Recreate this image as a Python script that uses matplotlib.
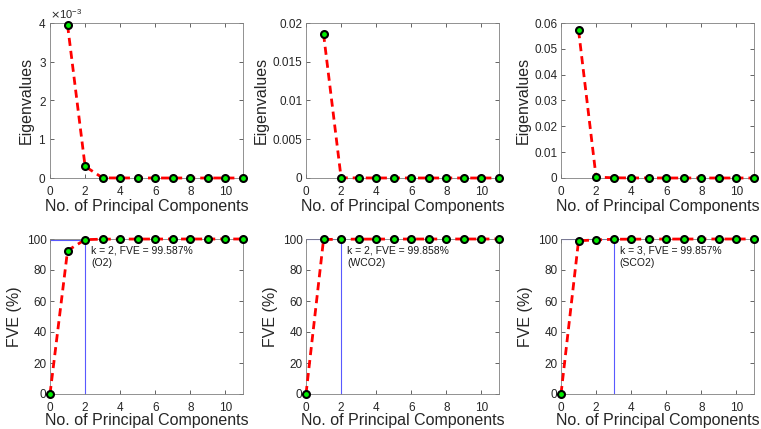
import numpy as np
import matplotlib
matplotlib.use("Agg")
import matplotlib.pyplot as plt
from matplotlib.ticker import FuncFormatter, ScalarFormatter

plt.rcParams['font.family'] = ['Liberation Sans', 'DejaVu Sans']

# --- data ---
pc_eig = [1, 2, 3, 4, 5, 6, 7, 8, 9, 10, 11]
eig_o2 = [3.95e-3, 0.30e-3, 2e-6, 1e-6, 1e-6, 0, 0, 0, 0, 0, 0]
eig_wco2 = [0.0186, 2.5e-5, 8e-6, 4e-6, 2e-6, 1e-6, 0, 0, 0, 0, 0]
eig_sco2 = [0.0572, 0.00035, 8e-5, 2e-5, 1e-5, 5e-6, 2e-6, 1e-6, 0, 0, 0]

pc_fve = [0, 1, 2, 3, 4, 5, 6, 7, 8, 9, 10, 11]
fve_o2 = [0, 92.5, 99.587, 99.9, 99.95, 99.97, 99.98, 99.99, 100, 100, 100, 100]
fve_wco2 = [0, 99.7, 99.858, 99.92, 99.95, 99.97, 99.98, 99.99, 100, 100, 100, 100]
fve_sco2 = [0, 98.9, 99.4, 99.857, 99.9, 99.94, 99.96, 99.98, 99.99, 100, 100, 100]

k_sel = [2, 2, 3]
fve_sel = [99.587, 99.858, 99.857]
names = ['O2', 'WCO2', 'SCO2']

eigs = [eig_o2, eig_wco2, eig_sco2]
fves = [fve_o2, fve_wco2, fve_sco2]
eig_ylims = [4e-3, 0.02, 0.06]
eig_ticks = [np.arange(0, 4.1e-3, 1e-3), np.arange(0, 0.0201, 0.005), np.arange(0, 0.061, 0.01)]
eig_lab_off = [16, 37, 30]

W, H = 761, 429
fig = plt.figure(figsize=(W / 100, H / 100), dpi=100)

lefts = [50, 306, 561]
aw, ah = 193, 155
tops = [23, 239]

red = dict(color='red', lw=2, linestyle=(0, (2.9, 1.8)), marker='o', ms=5,
           mfc='#00ee00', mec='black', mew=1.5)
blue = (0.35, 0.35, 1.0)


def style(ax):
    ax.tick_params(direction='in', length=3, width=0.5, labelsize=8.5, colors='0.15',
                   top=True, right=True)
    ax.tick_params(axis='x', pad=6)
    ax.tick_params(axis='y', pad=2.5)
    for s in ax.spines.values():
        s.set_linewidth(0.6)
        s.set_color('0.5')
    ax.set_xlim(0, 11)
    ax.set_xticks([0, 2, 4, 6, 8, 10])


for i in range(3):
    # eigenvalue panel
    ax = fig.add_axes([lefts[i] / W, 1 - (tops[0] + ah) / H, aw / W, ah / H])
    style(ax)
    ax.plot(pc_eig, eigs[i], **red, clip_on=False, zorder=3)
    ax.set_ylim(0, eig_ylims[i])
    ax.set_yticks(eig_ticks[i])
    if i == 0:
        fmt = ScalarFormatter(useMathText=True)
        fmt.set_powerlimits((-2, 2))
        ax.yaxis.set_major_formatter(fmt)
        ax.yaxis.get_offset_text().set_fontsize(8)
        ax.yaxis.get_offset_text().set_color('0.15')
    else:
        ax.yaxis.set_major_formatter(FuncFormatter(lambda v, p: '%g' % round(v, 4)))
    ax.set_ylabel('Eigenvalues', fontsize=11.5, color='0.15')
    ax.yaxis.set_label_coords(-eig_lab_off[i] / aw, 0.5)
    ax.set_xlabel('No. of Principal Components', fontsize=11.5, color='0.15')
    ax.xaxis.set_label_coords(0.5, -21 / ah)

    # FVE panel
    ax = fig.add_axes([lefts[i] / W, 1 - (tops[1] + ah) / H, aw / W, ah / H])
    style(ax)
    ax.plot([0, k_sel[i]], [fve_sel[i], fve_sel[i]], color=blue, lw=0.8, zorder=2)
    ax.plot([k_sel[i], k_sel[i]], [0, fve_sel[i]], color=blue, lw=0.8, zorder=2)
    ax.plot(pc_fve, fves[i], **red, clip_on=False, zorder=3)
    ax.set_ylim(0, 100)
    ax.set_yticks(np.arange(0, 101, 20))
    ax.text(k_sel[i] + 0.35, 96, 'k = %d, FVE = %.3f%%\n(%s)' % (k_sel[i], fve_sel[i], names[i]),
            fontsize=7.5, va='top', ha='left', color='0.1', linespacing=1.35)
    ax.set_ylabel('FVE (%)', fontsize=11.5, color='0.15')
    ax.yaxis.set_label_coords(-28 / aw, 0.5)
    ax.set_xlabel('No. of Principal Components', fontsize=11.5, color='0.15')
    ax.xaxis.set_label_coords(0.5, -19.5 / ah)

fig.savefig('out.png', dpi=100)
